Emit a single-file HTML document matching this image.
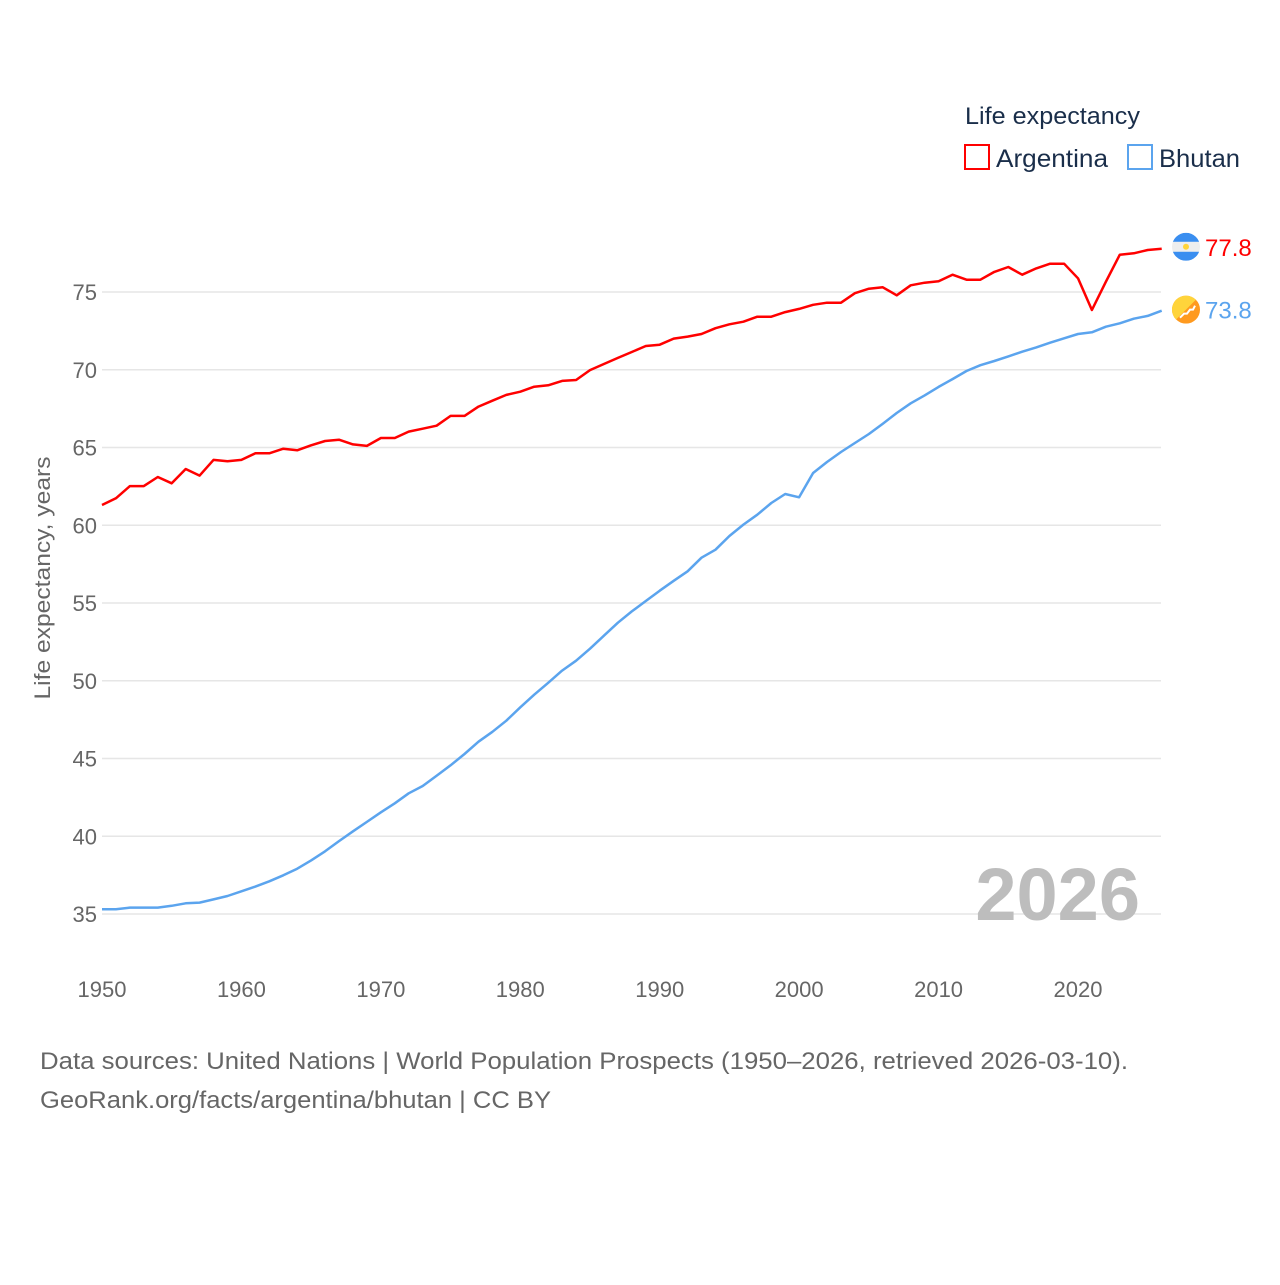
<!DOCTYPE html>
<html><head><meta charset="utf-8"><style>
body{margin:0;background:#fff;font-family:"Liberation Sans",sans-serif}
svg text{font-family:"Liberation Sans",sans-serif}
</style></head><body>
<svg id="chart" width="1280" height="1280" viewBox="0 0 1280 1280" xmlns="http://www.w3.org/2000/svg">
<defs>
<clipPath id="ca"><circle id="cac" cx="1186" cy="246" r="14"/></clipPath>
<clipPath id="cb"><circle id="cbc" cx="1186" cy="310" r="14"/></clipPath>
</defs>
<g id="grid"></g>
<g id="yticks"></g>
<g id="xticks"></g>
<text transform="translate(50,578) rotate(-90)" text-anchor="middle" font-size="22" fill="#666" textLength="243" lengthAdjust="spacingAndGlyphs">Life expectancy, years</text>
<text x="1140" y="920" text-anchor="end" font-size="74" font-weight="bold" fill="#bdbdbd">2026</text>
<g id="series"></g>
<g>
<text x="965" y="124" font-size="24" fill="#1a2e4a" textLength="175" lengthAdjust="spacingAndGlyphs">Life expectancy</text>
<rect x="965" y="145" width="24" height="24" fill="none" stroke="#ff0000" stroke-width="2"/>
<text x="996" y="167" font-size="25" fill="#1a2e4a" textLength="112" lengthAdjust="spacingAndGlyphs">Argentina</text>
<rect x="1128" y="145" width="24" height="24" fill="none" stroke="#5ba4ee" stroke-width="2"/>
<text x="1159" y="167" font-size="25" fill="#1a2e4a" textLength="81" lengthAdjust="spacingAndGlyphs">Bhutan</text>
</g>
<g id="ends"></g>
<text x="40" y="1069" font-size="24" fill="#666" textLength="1088" lengthAdjust="spacingAndGlyphs">Data sources: United Nations | World Population Prospects (1950–2026, retrieved 2026-03-10).</text>
<text x="40" y="1108" font-size="24" fill="#666" textLength="511" lengthAdjust="spacingAndGlyphs">GeoRank.org/facts/argentina/bhutan | CC BY</text>
</svg>
<script>
const years = Array.from({length: 77}, (_, i) => 1950 + i);
const argentina = [61.30,61.73,62.52,62.52,63.10,62.70,63.62,63.19,64.20,64.11,64.20,64.63,64.63,64.92,64.82,65.14,65.42,65.50,65.20,65.10,65.61,65.61,66.02,66.21,66.40,67.03,67.03,67.63,68.01,68.38,68.59,68.91,69.00,69.28,69.34,69.98,70.37,70.76,71.14,71.53,71.61,72.00,72.13,72.30,72.67,72.92,73.09,73.41,73.41,73.71,73.91,74.18,74.31,74.31,74.92,75.21,75.30,74.79,75.43,75.60,75.69,76.11,75.79,75.79,76.29,76.61,76.11,76.52,76.82,76.82,75.88,73.84,75.66,77.40,77.49,77.70,77.78];
const bhutan = [35.30,35.30,35.41,35.41,35.41,35.53,35.69,35.73,35.94,36.16,36.46,36.76,37.10,37.49,37.91,38.45,39.03,39.69,40.32,40.92,41.54,42.12,42.76,43.23,43.89,44.56,45.29,46.08,46.72,47.43,48.29,49.10,49.87,50.65,51.29,52.06,52.90,53.73,54.46,55.13,55.79,56.43,57.04,57.91,58.43,59.31,60.04,60.68,61.43,62.01,61.80,63.36,64.07,64.71,65.29,65.87,66.53,67.22,67.84,68.35,68.90,69.40,69.92,70.29,70.56,70.86,71.16,71.44,71.74,72.02,72.30,72.41,72.77,72.99,73.28,73.46,73.80];
const yTicks = [35,40,45,50,55,60,65,70,75];
const xTicks = [1950,1960,1970,1980,1990,2000,2010,2020];
const endLabels = ["77.8","73.8"];

const NS = "http://www.w3.org/2000/svg";
const x = yr => 102 + (yr - 1950) * (976 / 70);
const y = v => 292 + (75 - v) * (622 / 40);
function mk(tag, attrs, parent){const e=document.createElementNS(NS,tag);for(const k in attrs)e.setAttribute(k,attrs[k]);parent.appendChild(e);return e;}
const grid=document.getElementById('grid'), yt=document.getElementById('yticks'), xt=document.getElementById('xticks'), ser=document.getElementById('series'), ends=document.getElementById('ends');
yTicks.forEach(t=>{
  const l=mk('line',{x1:102,x2:1161,y1:y(t),y2:y(t),stroke:'#e6e6e6','stroke-width':1.5},grid);
  
  
  const tx=mk('text',{x:97,y:y(t)+8,'text-anchor':'end','font-size':22,fill:'#666'},yt);
  tx.textContent=t;
  
  
});
xTicks.forEach(t=>{
  const tx=mk('text',{x:x(t),y:997,'text-anchor':'middle','font-size':22,fill:'#666'},xt);
  tx.textContent=t;
  
  
});
function line(vals,color,name){
  const d=vals.map((v,i)=>(i?'L':'M')+x(years[i]).toFixed(1)+','+y(v).toFixed(1)).join('');
  const p=mk('path',{d:d,fill:'none',stroke:color,'stroke-width':2.5,'stroke-linejoin':'round'},ser);
  
  
}
line(bhutan,'#5ba4ee','bhutan-line');
line(argentina,'#ff0000','argentina-line');
const la=argentina[argentina.length-1], lb=bhutan[bhutan.length-1];
const ya=y(la)-2, yb=y(lb)-1;
document.getElementById('cac').setAttribute('cy',ya);
document.getElementById('cbc').setAttribute('cy',yb);
// Argentina flag
const fa=mk('g',{'clip-path':'url(#ca)'},ends);


mk('rect',{x:1172,y:ya-14,width:28,height:28,fill:'#eeeeee'},fa);
mk('rect',{x:1172,y:ya-14,width:28,height:9,fill:'#3a8ef0'},fa);
mk('rect',{x:1172,y:ya+5,width:28,height:9,fill:'#3a8ef0'},fa);
mk('circle',{cx:1186,cy:ya,r:3,fill:'#ffd43b'},fa);
const ta=mk('text',{x:1205,y:ya+9,'font-size':24,fill:'#ff0000'},ends);
ta.textContent=endLabels[0];


// Bhutan flag
const fb=mk('g',{'clip-path':'url(#cb)'},ends);


mk('rect',{x:1172,y:yb-14,width:28,height:28,fill:'#ff9a1f'},fb);
mk('path',{d:`M1172,${yb+14} L1200,${yb-14} L1172,${yb-14} Z`,fill:'#ffd43b'},fb);
mk('path',{d:`M1180,${yb+8} l4,-4 l3,0 l3,-4 l3,0 l2,-4`,fill:'none',stroke:'#fff','stroke-width':2},fb);
const tb=mk('text',{x:1205,y:yb+9,'font-size':24,fill:'#5ba4ee'},ends);
tb.textContent=endLabels[1];


</script>
</body></html>
